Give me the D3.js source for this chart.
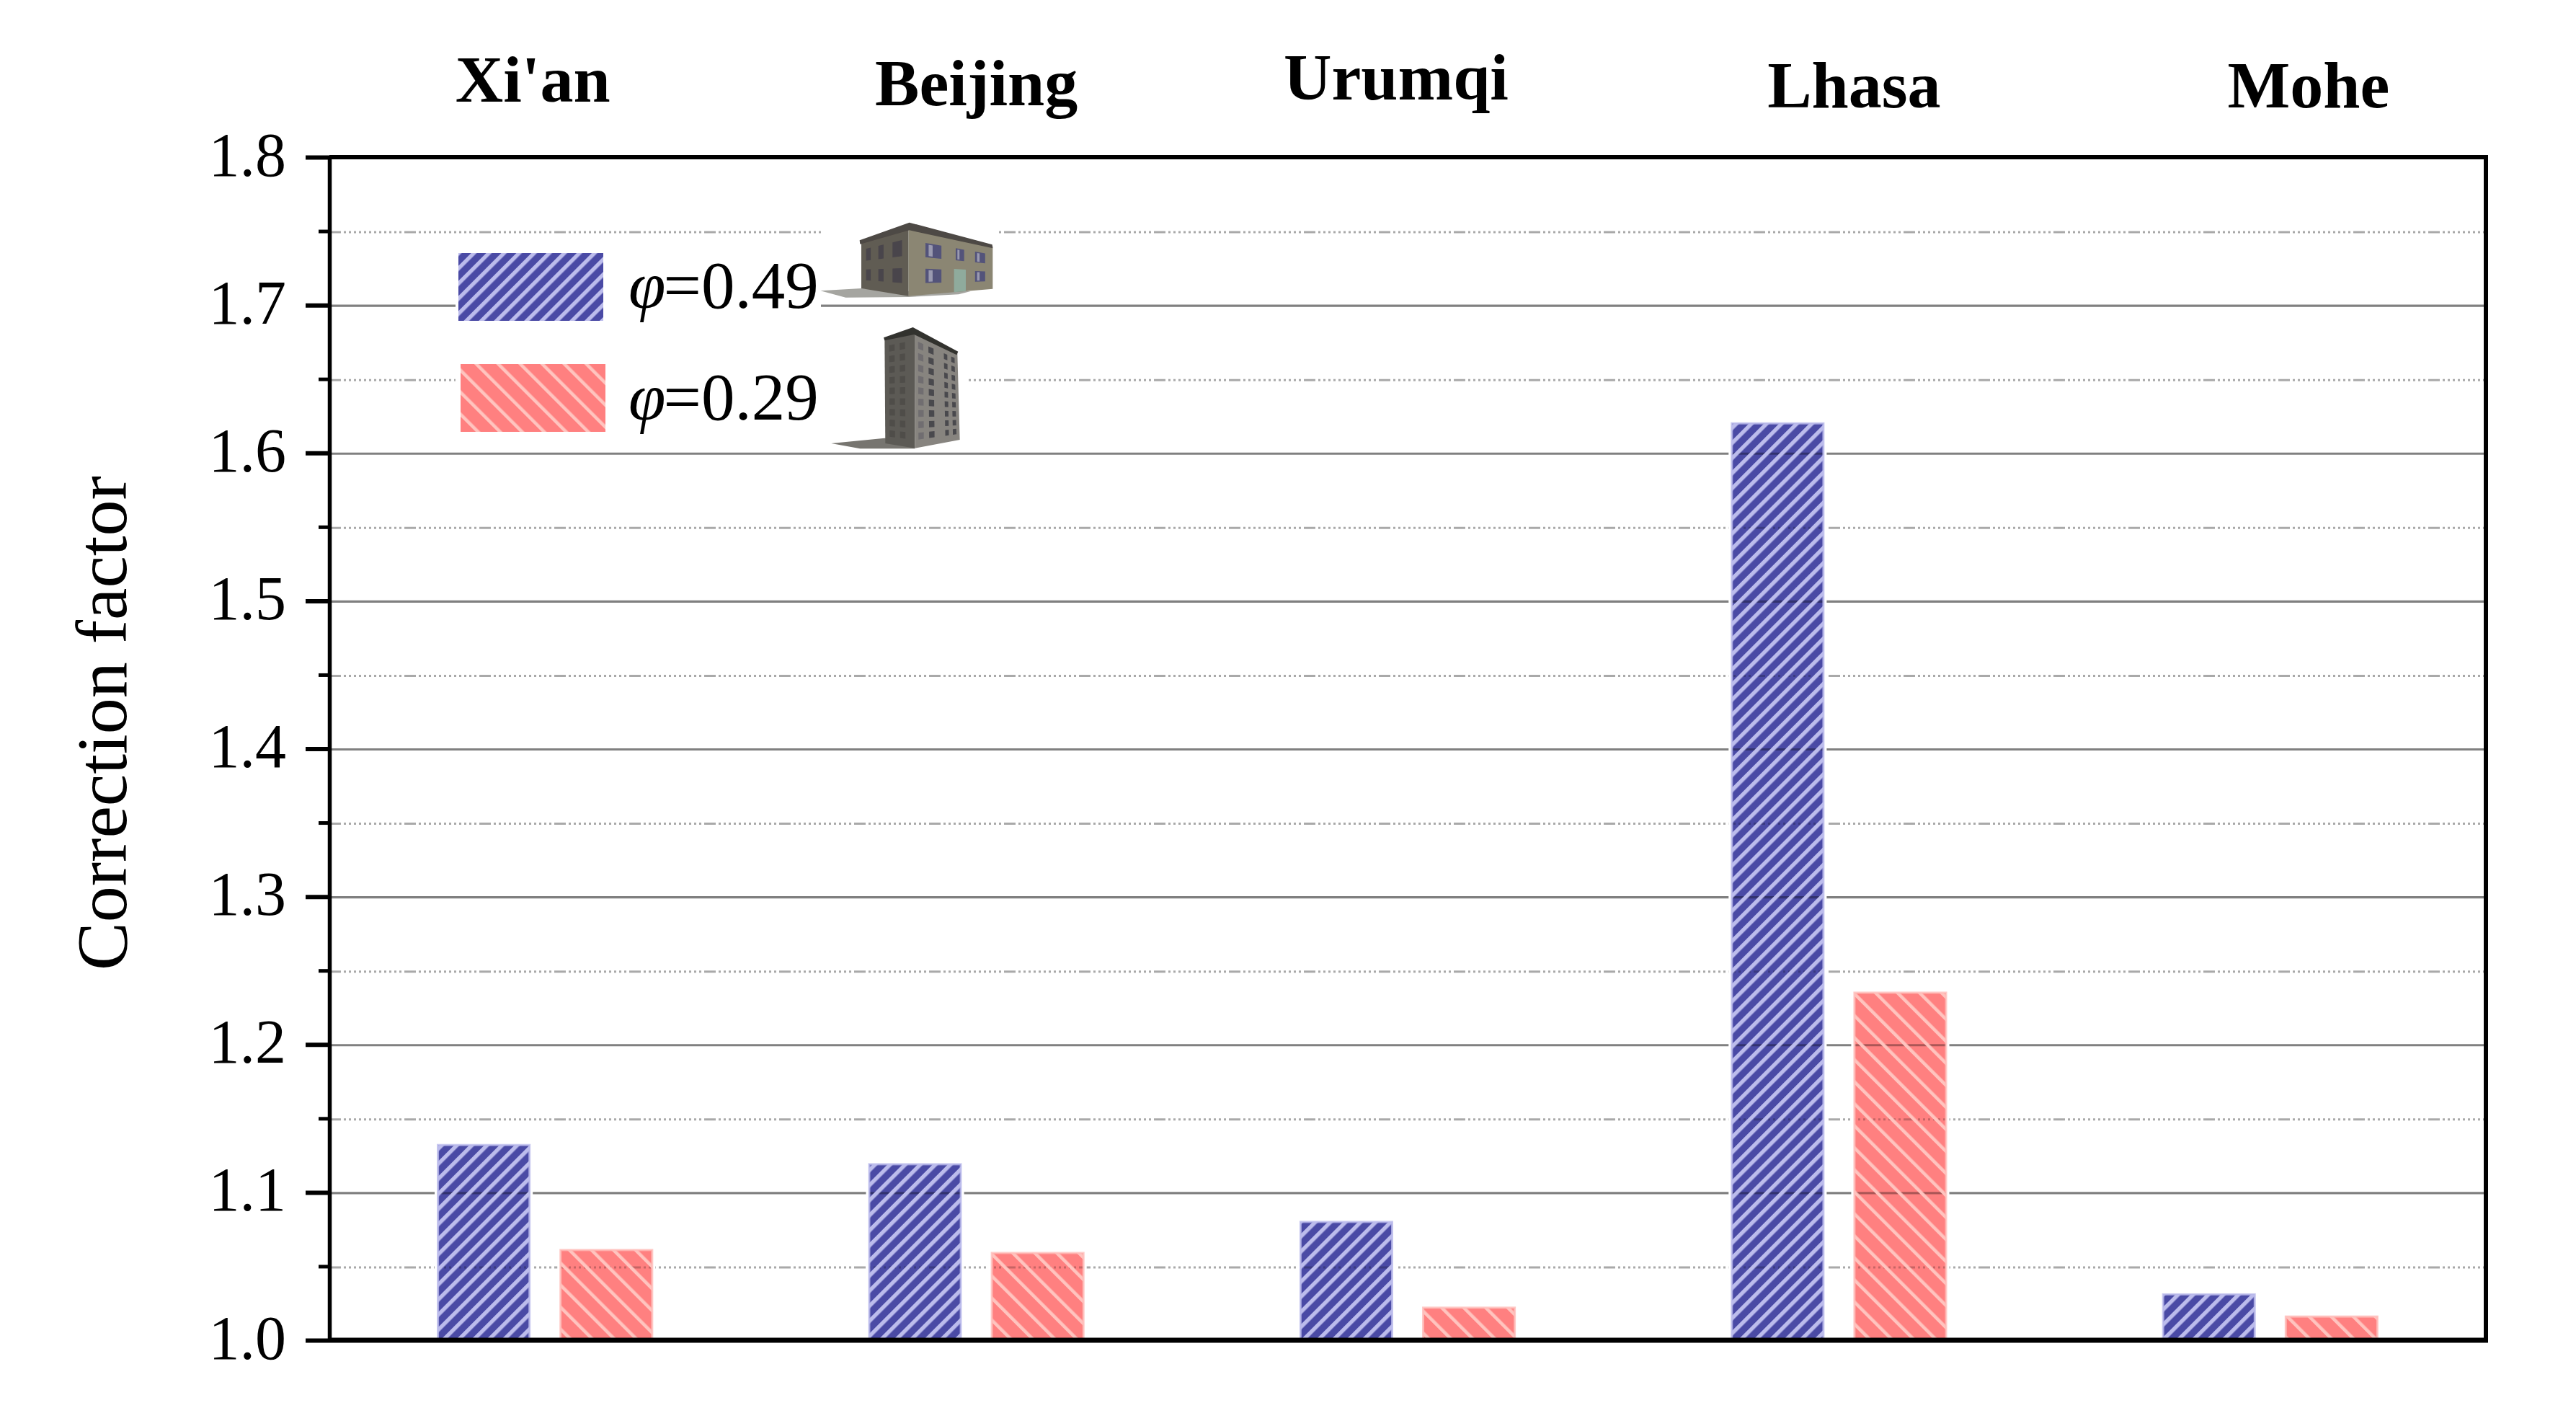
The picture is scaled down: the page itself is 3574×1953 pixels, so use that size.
<!DOCTYPE html>
<html>
<head>
<meta charset="utf-8">
<script src="https://cdn.jsdelivr.net/npm/d3@7"></script>
<style>
  html, body { margin: 0; padding: 0; background: #fff; }
  svg { display: block; }
  text { font-family: "Liberation Serif", "Times New Roman", serif; fill: #000; }
</style>
</head>
<body>
<div id="chart"></div>
<script>
// ---- data ----
const cities = ["Xi'an", "Beijing", "Urumqi", "Lhasa", "Mohe"];
const seriesKeys = ["phi049", "phi029"];
const seriesLabels = ["=0.49", "=0.29"];
const valuesPhi049 = [1.132, 1.119, 1.080, 1.620, 1.031];
const valuesPhi029 = [1.061, 1.059, 1.022, 1.235, 1.016];
const majorTicks = [1.0, 1.1, 1.2, 1.3, 1.4, 1.5, 1.6, 1.7, 1.8];
const minorTicks = [1.05, 1.15, 1.25, 1.35, 1.45, 1.55, 1.65, 1.75];
const yTitle = "Correction factor";

// ---- layout ----
const W = 3574, H = 1953;
const plot = { left: 457, right: 3449, top: 218, bottom: 1859 };
// hand-placed city captions: offset from band centre and baseline
const captionOffset = [-17, 0, -16, 21, 53];
const captionBaseline = [141, 146, 138, 149, 149];
const seriesBase = { phi049: "#4a4aa5", phi029: "#ff8080" };
const seriesEdge = { phi049: "#bcbcec", phi029: "#ffbdb9" };

const svg = d3.select("#chart").append("svg").attr("width", W).attr("height", H)
  .attr("viewBox", `0 0 ${W} ${H}`);
svg.append("rect").attr("width", W).attr("height", H).attr("fill", "#fff");
const defs = svg.append("defs");

function stripes(id, light, period, width, angle) {
  const p = defs.append("pattern").attr("id", id).attr("patternUnits", "userSpaceOnUse")
    .attr("width", period).attr("height", period)
    .attr("patternTransform", `rotate(${angle})`);
  p.append("rect").attr("width", width).attr("height", period).attr("fill", light);
}
stripes("hatch-phi049", "#bcbcec", 14.8, 5.4, 45);
stripes("hatch-phi029", "#ffc4bf", 21.6, 4.5, -45);
defs.append("filter").attr("id", "soft").append("feGaussianBlur").attr("stdDeviation", 1.5);

// ---- scales ----
const x0 = d3.scaleBand().domain(cities).range([plot.left, plot.right]);
const x1 = d3.scaleBand().domain(seriesKeys).range([0, x0.bandwidth()])
  .paddingInner(0.253).paddingOuter(0.885);
const y = d3.scaleLinear().domain([1, 1.8]).range([plot.bottom, plot.top]);

const rows = cities.flatMap((c, i) => [
  { city: c, key: seriesKeys[0], value: valuesPhi049[i] },
  { city: c, key: seriesKeys[1], value: valuesPhi029[i] }
]);
const barX = d => x0(d.city) + x1(d.key);
const barY = d => y(d.value);
const barH = d => y(1) - y(d.value);

// ---- grid ----
const minorDash = ["16 4"].concat(d3.range(12).map(() => "3 4")).join(" ");
function drawGrid(g) {
  g.selectAll("line.major").data(majorTicks.slice(1, -1)).join("line").attr("class", "major")
    .attr("x1", plot.left).attr("x2", plot.right)
    .attr("y1", d => y(d) + 1).attr("y2", d => y(d) + 1)
    .attr("stroke", "#808080").attr("stroke-width", 3.2);
  g.selectAll("line.minor").data(minorTicks).join("line").attr("class", "minor")
    .attr("x1", plot.left).attr("x2", plot.right)
    .attr("y1", d => y(d) + 1.5).attr("y2", d => y(d) + 1.5)
    .attr("stroke", "#a9a9a9").attr("stroke-width", 3).attr("stroke-dasharray", minorDash);
}
drawGrid(svg.append("g").attr("class", "grid"));

// white backgrounds of the pasted legend pieces
const masks = svg.append("g").attr("fill", "#fff");
[[632, 340, 507, 275], [1139, 300, 244, 70], [1139, 440, 201, 170]].forEach(m =>
  masks.append("rect").attr("x", m[0]).attr("y", m[1]).attr("width", m[2]).attr("height", m[3]));

// ---- bars ----
const barsG = svg.append("g").attr("class", "bars");
barsG.selectAll("rect.halo").data(rows).join("rect").attr("class", "halo")
  .attr("x", barX).attr("y", barY).attr("width", x1.bandwidth()).attr("height", barH)
  .attr("fill", "#fff").attr("stroke", "#fff").attr("stroke-width", 9);
barsG.selectAll("rect.bar").data(rows).join("rect").attr("class", "bar")
  .attr("x", barX).attr("y", barY).attr("width", x1.bandwidth()).attr("height", barH)
  .attr("fill", d => seriesBase[d.key]);

// gridlines showing through the bars, under the light stripes
const clip = defs.append("clipPath").attr("id", "bars-clip");
clip.selectAll("rect").data(rows).join("rect")
  .attr("x", barX).attr("y", barY).attr("width", x1.bandwidth()).attr("height", barH);
const through = svg.append("g").attr("clip-path", "url(#bars-clip)")
  .style("mix-blend-mode", "multiply").attr("opacity", 0.65);
drawGrid(through);

svg.append("g").selectAll("rect").data(rows).join("rect")
  .attr("x", barX).attr("y", barY).attr("width", x1.bandwidth()).attr("height", barH)
  .attr("fill", d => `url(#hatch-${d.key})`)
  .attr("stroke", d => seriesEdge[d.key])
  .attr("stroke-opacity", 0.8)
  .attr("stroke-width", 3);

// ---- legend ----
const legendBox = [{ x: 636, y: 351 }, { x: 639, y: 505 }];
const legendBaseline = [427, 582];
const legend = svg.append("g").attr("class", "legend");
seriesKeys.forEach((k, i) => {
  legend.append("rect").attr("x", legendBox[i].x).attr("y", legendBox[i].y)
    .attr("width", 201).attr("height", 94).attr("fill", seriesBase[k]);
  legend.append("rect").attr("x", legendBox[i].x).attr("y", legendBox[i].y)
    .attr("width", 201).attr("height", 94).attr("fill", `url(#hatch-${k})`);
  const t = legend.append("text").attr("x", 872).attr("y", legendBaseline[i])
    .attr("font-size", 93);
  t.append("tspan").attr("font-style", "italic").text("\u03C6");
  t.append("tspan").attr("dx", -3).text(seriesLabels[i]);
});

// ---- building illustrations (scaled from their crop coordinates) ----
function poly(g, pts, fill) {
  return g.append("polygon").attr("points", pts.map(p => p.join(",")).join(" ")).attr("fill", fill);
}
function lerp(a, b, t) { return [a[0] + (b[0] - a[0]) * t, a[1] + (b[1] - a[1]) * t]; }
function faceQuad(tl, tr, br, bl, u0, u1, v0, v1) {
  const p = (u, v) => lerp(lerp(tl, tr, u), lerp(bl, br, u), v);
  return [p(u0, v0), p(u1, v0), p(u1, v1), p(u0, v1)];
}

const house = svg.append("g").attr("transform", "translate(1130,280) scale(0.3333)").attr("filter", "url(#soft)");
poly(house, [[25, 370], [195, 360], [392, 372], [650, 372], [600, 385], [392, 396], [130, 398]], "#a5a5a0");
{
  const LT = [195, 165], LM = [392, 100], LB = [392, 392], LL = [195, 360];
  const RT = [392, 100], RR = [742, 185], RB = [742, 362], RL = [392, 392];
  poly(house, [LT, LM, LB, LL], "#615c52");
  poly(house, [RT, RR, RB, RL], "#8b8673");
  [[0.10, 0.20], [0.36, 0.47], [0.66, 0.86]].forEach(u => [[0.18, 0.42], [0.60, 0.82]].forEach(v =>
    poly(house, faceQuad(LT, LM, LB, LL, u[0], u[1], v[0], v[1]), "#48444c")));
  [[0.20, 0.39], [0.56, 0.66], [0.79, 0.91]].forEach((u, ui) => [[0.20, 0.42], [0.60, 0.82]].forEach((v, vi) => {
    if (ui === 1 && vi === 1) return;
    poly(house, faceQuad(RT, RR, RB, RL, u[0], u[1], v[0], v[1]), "#52527a");
    poly(house, faceQuad(RT, RR, RB, RL, u[0] + (u[1] - u[0]) * 0.2, u[0] + (u[1] - u[0]) * 0.45, v[0] + 0.02, v[1] - 0.02), "#9a9ab0");
  }));
  poly(house, faceQuad(RT, RR, RB, RL, 0.54, 0.68, 0.58, 1), "#8fab9c");
  poly(house, [[188, 160], [395, 86], [740, 178], [742, 193], [395, 118], [190, 176]], "#4d4844");
}

const tower = svg.append("g").attr("transform", "translate(1140,440) scale(0.3333)").attr("filter", "url(#soft)");
poly(tower, [[40, 525], [262, 503], [388, 535], [388, 547], [160, 547]], "#77756f");
{
  const LT = [262, 90], LM = [387, 62], LB = [388, 545], LL = [265, 525];
  const RT = [387, 62], RR = [565, 150], RB = [575, 510], RL = [388, 545];
  poly(tower, [LT, LM, LB, LL], "#5c5a55");
  poly(tower, [RT, RR, RB, RL], "#87847f");
  d3.range(9).forEach(r => {
    const v0 = 0.07 + r * 0.1, v1 = v0 + 0.06;
    [0.08, 0.32, 0.68, 0.85].forEach((u, c) => {
      poly(tower, faceQuad(RT, RR, RB, RL, u, u + (c < 2 ? 0.12 : 0.08), v0, v1), c === 0 ? "#6f6d70" : "#4a484e");
    });
    [0.15, 0.5].forEach(u =>
      poly(tower, faceQuad(LT, LM, LB, LL, u, u + 0.18, v0, v1), "#4f4d4a"));
  });
  poly(tower, [[258, 85], [380, 42], [568, 143], [562, 157], [385, 72], [262, 97]], "#33312f");
}

// ---- frame and axes ----
const frame = svg.append("g");
frame.append("line").attr("x1", plot.left).attr("x2", plot.right + 3)
  .attr("y1", y(1.8)).attr("y2", y(1.8)).attr("stroke", "#000").attr("stroke-width", 6);
frame.append("line").attr("x1", plot.left).attr("x2", plot.right + 3)
  .attr("y1", y(1)).attr("y2", y(1)).attr("stroke", "#000").attr("stroke-width", 7);
frame.append("line").attr("x1", plot.right).attr("x2", plot.right)
  .attr("y1", y(1.8)).attr("y2", y(1)).attr("stroke", "#000").attr("stroke-width", 6);

const axisMajor = d3.axisLeft(y).tickValues(majorTicks).tickSize(33).tickSizeOuter(0)
  .tickPadding(27).tickFormat(d3.format(".1f"));
const axisG = svg.append("g").attr("transform", `translate(${plot.left},0)`).call(axisMajor);
axisG.select(".domain").attr("stroke", "#000").attr("stroke-width", 5.5);
axisG.selectAll(".tick line").attr("stroke", "#000").attr("stroke-width", 6);
axisG.selectAll(".tick text").attr("font-size", 86)
  .attr("font-family", "Liberation Serif").attr("fill", "#000").attr("dy", 25);

const axisMinor = d3.axisLeft(y).tickValues(minorTicks).tickSize(15).tickSizeOuter(0).tickFormat("");
const axisMinorG = svg.append("g").attr("transform", `translate(${plot.left},0)`).call(axisMinor);
axisMinorG.select(".domain").remove();
axisMinorG.selectAll(".tick line").attr("stroke", "#000").attr("stroke-width", 5);

// ---- texts ----
svg.append("text").attr("transform", "translate(175,1003) rotate(-90)")
  .attr("text-anchor", "middle").attr("font-size", 100).text(yTitle);

svg.append("g").selectAll("text").data(cities).join("text")
  .attr("x", (d, i) => x0(d) + x0.bandwidth() / 2 + captionOffset[i])
  .attr("y", (d, i) => captionBaseline[i])
  .attr("text-anchor", "middle").attr("font-size", 92).attr("font-weight", "bold")
  .text(d => d);
</script>
</body>
</html>
